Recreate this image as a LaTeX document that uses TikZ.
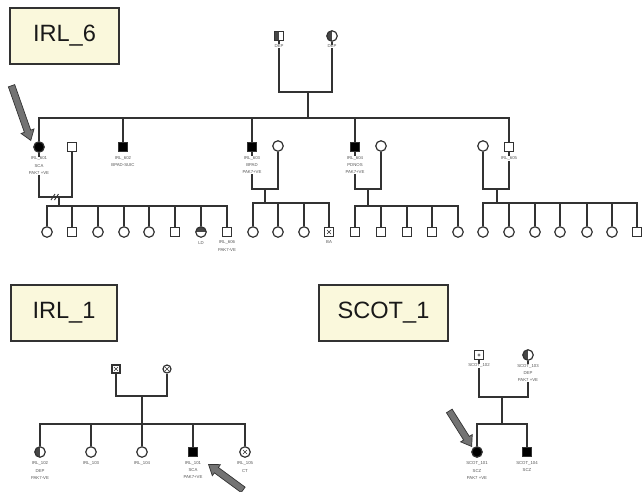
\documentclass[tikz,border=0pt]{standalone}
\usepackage{fontspec}
\setmainfont{Liberation Sans}
\usetikzlibrary{shapes.arrows}
\definecolor{boxfill}{RGB}{250,248,220}
\definecolor{ln}{RGB}{50,50,50}
\definecolor{lbl}{RGB}{85,85,85}
\definecolor{shadec}{RGB}{70,70,70}
\definecolor{arrowgray}{RGB}{115,115,115}
\tikzset{
  famline/.style={draw=ln, line width=1.5pt},
  male/.style={rectangle, draw=ln, line width=1.2pt, fill=white, minimum size=9.5pt, inner sep=0pt},
  female/.style={circle, draw=ln, line width=1.2pt, fill=white, minimum size=10.5pt, inner sep=0pt},
  smallsym/.style={minimum size=8pt},
  aff/.style={fill=black},
  halfshade/.style={path picture={\fill[shadec] (path picture bounding box.south west) rectangle (path picture bounding box.north);}},
  topshade/.style={path picture={\fill[shadec] (path picture bounding box.west) rectangle (path picture bounding box.north east);}},
  crossed/.style={path picture={\draw[ln, line width=0.6pt]
      ([shift={(-2pt,-2pt)}]path picture bounding box.center) -- ([shift={(2pt,2pt)}]path picture bounding box.center)
      ([shift={(-2pt,2pt)}]path picture bounding box.center) -- ([shift={(2pt,-2pt)}]path picture bounding box.center);}},
  dotsym/.style={path picture={\fill[gray] (path picture bounding box.center) circle (1.6pt);}},
  lab/.style={font=\fontsize{4.3}{7.2}\selectfont, text=lbl, align=center, fill=white, inner sep=0.4pt, anchor=north},
  title/.style={draw=ln, line width=1.2pt, fill=boxfill, minimum height=56pt, inner sep=0pt,
      font=\fontsize{23.6}{26}\selectfont, text=black!90},
  pointer/.style={single arrow, draw=black!80, fill=arrowgray, line width=0.7pt, inner sep=3pt,
      single arrow head extend=3.5pt, single arrow tip angle=70, anchor=tip}
}
\begin{document}
\begin{tikzpicture}[x=1pt,y=-1pt]
\useasboundingbox (0,0) rectangle (642,491);
\fill[white] (0,0) rectangle (642,491);

% ---------- titles ----------
\node[title, minimum width=109pt] (t6) at (64.5,36) {IRL\_6};
\node[title, minimum width=106pt] (t1) at (64,313) {IRL\_1};
\node[title, minimum width=129pt] (ts) at (383.5,313) {SCOT\_1};

% ---------- IRL_6 ----------
\node[male, halfshade] (gf) at (279,36) {};
\node[female, halfshade] (gm) at (332,36) {};
\coordinate (cpl0) at (308,92);
\coordinate (sib0) at (308,118);

\node[female, aff] (i601) at (39,147) {};
\node[male] (s601) at (72,147) {};
\node[male, aff] (i602) at (123,147) {};
\node[male, aff] (i603) at (252,147) {};
\node[female] (s603) at (278,146) {};
\node[male, aff] (i604) at (355,147) {};
\node[female] (s604) at (381,146) {};
\node[female] (s605) at (483,146) {};
\node[male] (i605) at (509,147) {};

\coordinate (m601) at (59,197);
\coordinate (c601) at (59,206);
\coordinate (m603) at (265,189);
\coordinate (c603) at (265,203);
\coordinate (m604) at (368,189);
\coordinate (c604) at (368,206);
\coordinate (m605) at (497,189);
\coordinate (c605) at (497,203);

\node[female] (k601a) at (47,232) {};
\node[male]   (k601b) at (72,232) {};
\node[female] (k601c) at (98,232) {};
\node[female] (k601d) at (124,232) {};
\node[female] (k601e) at (149,232) {};
\node[male]   (k601f) at (175,232) {};
\node[female, topshade] (k601g) at (201,232) {};
\node[male]   (k601h) at (227,232) {};

\node[female] (k603a) at (253,232) {};
\node[female] (k603b) at (278,232) {};
\node[female] (k603c) at (304,232) {};
\node[male, crossed] (k603d) at (329,232) {};

\node[male] (k604a) at (355,232) {};
\node[male] (k604b) at (381,232) {};
\node[male] (k604c) at (407,232) {};
\node[male] (k604d) at (432,232) {};
\node[female] (k604e) at (458,232) {};

\node[female] (k605a) at (483,232) {};
\node[female] (k605b) at (509,232) {};
\node[female] (k605c) at (535,232) {};
\node[female] (k605d) at (560,232) {};
\node[female] (k605e) at (587,232) {};
\node[female] (k605f) at (612,232) {};
\node[male]   (k605g) at (637,232) {};

% lines IRL_6
\draw[famline] (gf) |- (cpl0) -| (gm);
\draw[famline] (cpl0) -- (sib0);
\draw[famline] (i601) |- (sib0) -| (i605);
\foreach \n in {i602,i603,i604} \draw[famline] (\n) -- (\n |- sib0);

\draw[famline] (i601) |- (m601) -| (s601);
\draw[famline] (m601) -- (c601);
\draw[ln, line width=0.9pt] (51,200) -- (55,194) (54.5,200) -- (58.5,194);
\draw[famline] (k601a) |- (c601) -| (k601h);
\foreach \n in {k601b,k601c,k601d,k601e,k601f,k601g} \draw[famline] (\n) -- (\n |- c601);

\draw[famline] (i603) |- (m603) -| (s603);
\draw[famline] (m603) -- (c603);
\draw[famline] (k603a) |- (c603) -| (k603d);
\foreach \n in {k603b,k603c} \draw[famline] (\n) -- (\n |- c603);

\draw[famline] (i604) |- (m604) -| (s604);
\draw[famline] (m604) -- (c604);
\draw[famline] (k604a) |- (c604) -| (k604e);
\foreach \n in {k604b,k604c,k604d} \draw[famline] (\n) -- (\n |- c604);

\draw[famline] (s605) |- (m605) -| (i605);
\draw[famline] (m605) -- (c605);
\draw[famline] (k605a) |- (c605) -| (k605g);
\foreach \n in {k605b,k605c,k605d,k605e,k605f} \draw[famline] (\n) -- (\n |- c605);

% labels IRL_6
\node[lab] (lgf) at ([yshift=-2.5pt]gf.south) {DEP};
\node[lab] (lgm) at ([yshift=-2.5pt]gm.south) {DEP};
\node[lab] (l601) at ([yshift=-3.5pt]i601.south) {IRL\_601\\SCA\\PAK7 +VE};
\node[lab] (l602) at ([yshift=-3.5pt]i602.south) {IRL\_602\\BPAD-SUIC};
\node[lab] (l603) at ([yshift=-3.5pt]i603.south) {IRL\_603\\BPAD\\PAK7+VE};
\node[lab] (l604) at ([yshift=-3.5pt]i604.south) {IRL\_604\\PDNOS\\PAK7+VE};
\node[lab] (l605) at ([yshift=-3.5pt]i605.south) {IRL\_605};
\node[lab] (l601g) at ([yshift=-3pt]k601g.south) {LD};
\node[lab] (l606) at ([yshift=-3pt]k601h.south) {IRL\_606\\PAK7-VE};
\node[lab] (l603d) at ([yshift=-3pt]k603d.south) {BA};

\coordinate (tip1) at (31,141);
\node[pointer, minimum height=58pt, rotate=-70.6] (ar1) at (tip1) {};

% ---------- IRL_1 ----------
\node[male, smallsym, crossed] (q1) at (116,369) {};
\node[female, smallsym, crossed] (q2) at (167,369) {};
\coordinate (m1) at (142,396);
\coordinate (c1) at (142,424);
\node[female, halfshade] (r102) at (40,452) {};
\node[female] (r103) at (91,452) {};
\node[female] (r104) at (142,452) {};
\node[male, aff] (r101) at (193,452) {};
\node[female, crossed] (r105) at (245,452) {};

\draw[famline] (q1) |- (m1) -| (q2);
\draw[famline] (m1) -- (c1);
\draw[famline] (r102) |- (c1) -| (r105);
\foreach \n in {r103,r104,r101} \draw[famline] (\n) -- (\n |- c1);

\node[lab] (l102) at ([yshift=-3.5pt]r102.south) {IRL\_102\\DEP\\PAK7-VE};
\node[lab] (l103) at ([yshift=-3.5pt]r103.south) {IRL\_103};
\node[lab] (l104) at ([yshift=-3.5pt]r104.south) {IRL\_104};
\node[lab] (l101) at ([yshift=-3.5pt]r101.south) {IRL\_101\\SCA\\PAK7+VE};
\node[lab] (l105) at ([yshift=-3.5pt]r105.south) {IRL\_105\\CT};

\coordinate (tip2) at (208,464);
\node[pointer, minimum height=43pt, rotate=143.7] (ar2) at (tip2) {};

% ---------- SCOT_1 ----------
\node[male, dotsym] (p102) at (479,355) {};
\node[female, halfshade] (p103) at (528,355) {};
\coordinate (m2) at (502,397);
\coordinate (c2) at (502,424);
\node[female, aff] (s101) at (477,452) {};
\node[male, aff] (s104) at (527,452) {};

\draw[famline] (p102) |- (m2) -| (p103);
\draw[famline] (m2) -- (c2);
\draw[famline] (s101) |- (c2) -| (s104);

\node[lab] (l102s) at ([yshift=-3pt]p102.south) {SCOT\_102};
\node[lab] (l103s) at ([yshift=-3pt]p103.south) {SCOT\_103\\DEP\\PAK7 +VE};
\node[lab] (l101s) at ([yshift=-3.5pt]s101.south) {SCOT\_101\\SCZ\\PAK7 +VE};
\node[lab] (l104s) at ([yshift=-3.5pt]s104.south) {SCOT\_104\\SCZ};

\coordinate (tip3) at (472,447);
\node[pointer, minimum height=42pt, rotate=-57.8] (ar3) at (tip3) {};
\end{tikzpicture}
\end{document}
